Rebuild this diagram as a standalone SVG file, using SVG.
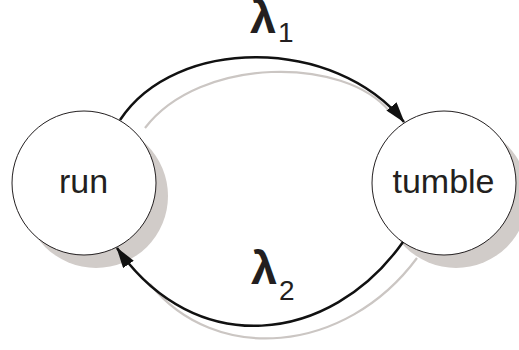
<svg xmlns="http://www.w3.org/2000/svg" width="519" height="350" viewBox="0 0 519 350">
<defs>
<style>
.shadow{fill:#d1ccc9;stroke:none}
.node{fill:#ffffff;stroke:#231f20;stroke-width:1}
.label{font-family:"Liberation Sans",Arial,sans-serif;font-size:34px;fill:#231f20;text-anchor:middle}
.edge{fill:none;stroke:#111111;stroke-width:2.5}
.ghost{fill:none;stroke:#cbc6c3;stroke-width:2.2}
.lam{font-family:"Liberation Sans",Arial,sans-serif;font-size:47px;font-weight:bold;fill:#231f20}
.sub{font-family:"Liberation Sans",Arial,sans-serif;font-size:28px;fill:#231f20}
</style>
<marker id="arrow" markerUnits="userSpaceOnUse" viewBox="0 0 21 13" markerWidth="21" markerHeight="13" refX="20" refY="6.5" orient="auto">
<path d="M0,0 L21,6.5 L0,13 z" fill="#111111"/>
</marker>
</defs>
<g id="shadows">
<circle class="shadow" cx="96" cy="196" r="72"/>
<circle class="shadow" cx="456" cy="196" r="72"/>
</g>
<g id="connectors-shadow">
<path class="ghost" d="M145,128 C200,56 345,56 390,112"/>
<path class="ghost" d="M417,258 C345,355 215,365 150,284"/>
</g>
<g id="node-run">
<circle class="node" cx="84" cy="183" r="72"/>
<text class="label" x="83.5" y="193">run</text>
</g>
<g id="node-tumble">
<circle class="node" cx="444" cy="183" r="72"/>
<text class="label" x="443.5" y="193">tumble</text>
</g>
<g id="connectors">
<path class="edge" d="M120,120 C175,36 335,36 404,122" marker-end="url(#arrow)"/>
<path class="edge" d="M403,242 C330,345 195,360 117,248" marker-end="url(#arrow)"/>
</g>
<g id="edge-labels">
<text y="33"><tspan class="lam" x="250">λ</tspan><tspan class="sub" x="278" y="42">1</tspan></text>
<text y="284"><tspan class="lam" x="251">λ</tspan><tspan class="sub" x="279" y="300">2</tspan></text>
</g>
</svg>
